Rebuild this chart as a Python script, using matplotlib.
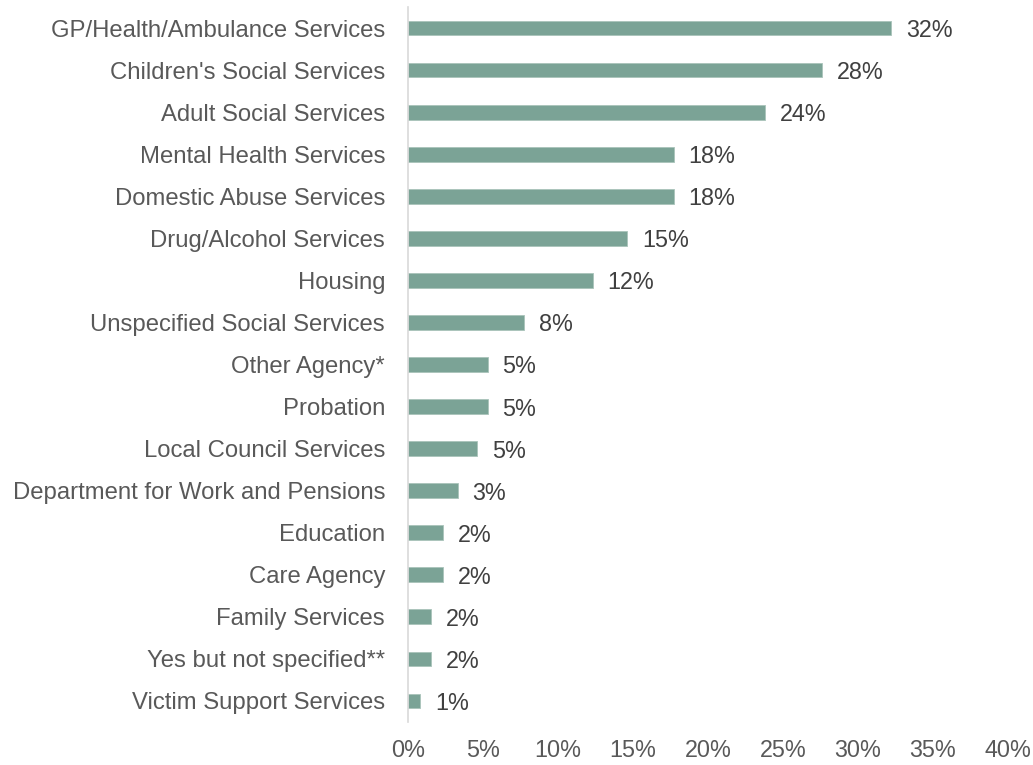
import matplotlib.pyplot as plt
from matplotlib.ticker import FuncFormatter

plt.rcParams['font.family'] = ['Liberation Sans', 'DejaVu Sans']

# agencies in chart order (top to bottom) and share of cases (%)
agencies = [
    "GP/Health/Ambulance Services",
    "Children's Social Services",
    "Adult Social Services",
    "Mental Health Services",
    "Domestic Abuse Services",
    "Drug/Alcohol Services",
    "Housing",
    "Unspecified Social Services",
    "Other Agency*",
    "Probation",
    "Local Council Services",
    "Department for Work and Pensions",
    "Education",
    "Care Agency",
    "Family Services",
    "Yes but not specified**",
    "Victim Support Services",
]
shares = [32.2, 27.6, 23.8, 17.7, 17.7, 14.6, 12.3, 7.7, 5.3, 5.3, 4.6,
          3.3, 2.3, 2.3, 1.5, 1.5, 0.8]
xticks = [0, 5, 10, 15, 20, 25, 30, 35, 40]

bar_color = '#7BA396'
label_color = '#595959'
value_color = '#404040'

fig = plt.figure(figsize=(10.33, 7.65), dpi=100)
ax = fig.add_axes([408 / 1033, 1 - 722 / 765, 600 / 1033, 715 / 765])

ypos = list(range(len(agencies)))
bars = ax.barh(ypos, shares, height=0.35, color=bar_color,
               edgecolor='#A9C4BA', linewidth=0.6)

for b, v in zip(bars, shares):
    ax.text(b.get_width() + 1.0, b.get_y() + b.get_height() / 2,
            f"{v:.0f}%", va='center_baseline', ha='left', fontsize=16.8,
            color=value_color)

ax.set_ylim(len(agencies) - 0.5, -0.5)
ax.set_yticks(ypos)
ax.set_yticklabels(agencies, fontsize=17.2, color=label_color)
ax.set_xlim(0, 40)
ax.set_xticks(xticks)
ax.xaxis.set_major_formatter(FuncFormatter(lambda x, _: f"{x:.0f}%"))
ax.tick_params(axis='x', labelsize=16.8, labelcolor=label_color, length=0, pad=12)
ax.tick_params(axis='y', length=0, pad=16.5)

for side in ['top', 'right', 'bottom']:
    ax.spines[side].set_visible(False)
ax.spines['left'].set_color('#D9D9D9')
ax.spines['left'].set_linewidth(1.2)

fig.savefig('out.png', dpi=100)
